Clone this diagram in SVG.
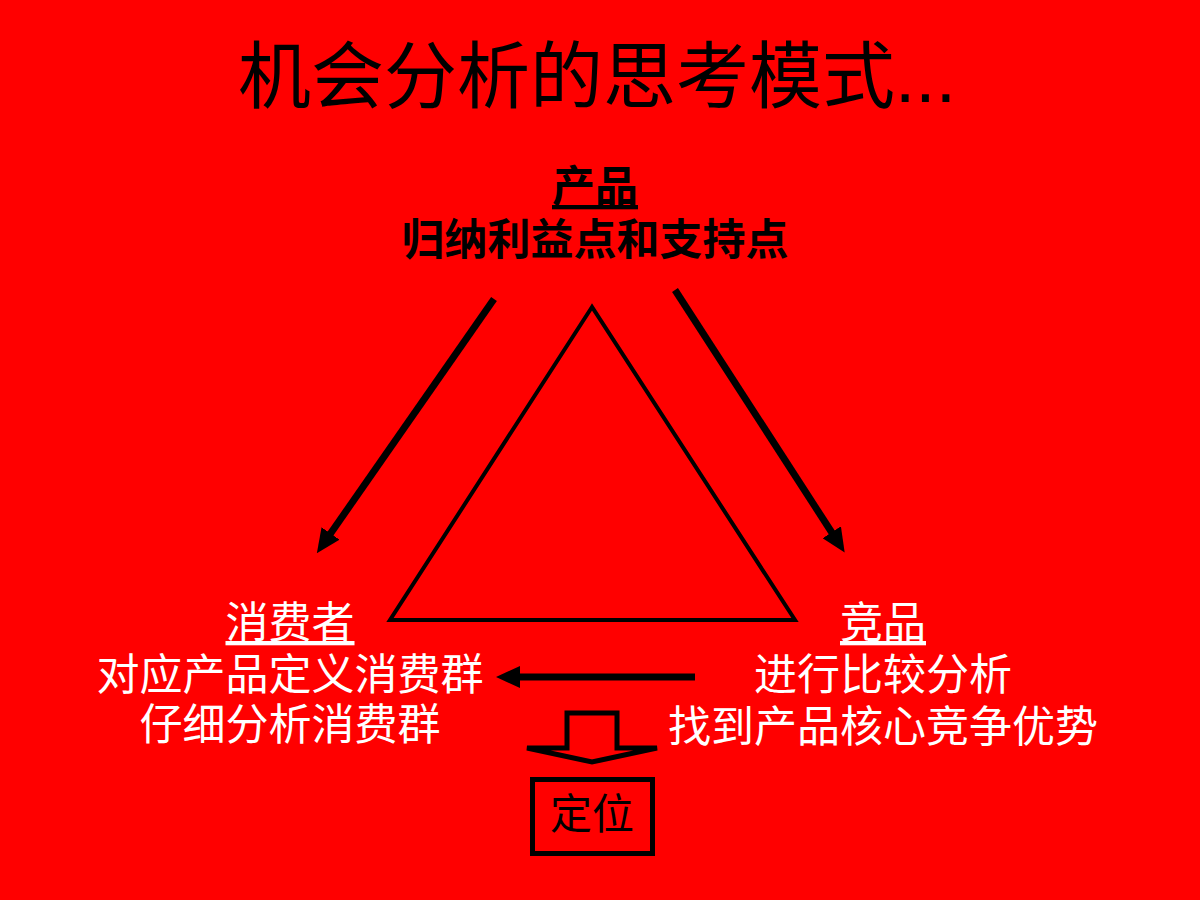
<svg xmlns="http://www.w3.org/2000/svg" width="1200" height="900" viewBox="0 0 1200 900">
<defs>
<style>
.t{font-family:"Liberation Sans","Noto Sans CJK SC",sans-serif;text-anchor:middle}
.title{font-size:73px;fill:#000}
.blk{font-size:43px;font-weight:bold;fill:#000}
.wht{font-size:43px;fill:#fff}
.u{text-decoration:underline}
.arr{stroke:#000;stroke-width:7;fill:none}
</style>
<marker id="ah" markerUnits="userSpaceOnUse" markerWidth="24" markerHeight="22" refX="8" refY="11" orient="auto">
<path d="M0,0 L24,11 L0,22 Z" fill="#000"/>
</marker>
</defs>
<rect x="0" y="0" width="1200" height="900" fill="#ff0000"/>
<text class="t title" x="597" y="102">机会分析的思考模式...</text>
<g id="triangle">
<polygon points="592,307 390,620 795,620" fill="none" stroke="#000" stroke-width="4"/>
</g>
<g id="product">
<text class="t blk u" x="595" y="202">产品</text>
<text class="t blk" x="595" y="255">归纳利益点和支持点</text>
</g>
<g id="consumer">
<text class="t wht u" x="290" y="638">消费者</text>
<text class="t wht" x="290" y="690">对应产品定义消费群</text>
<text class="t wht" x="290" y="740">仔细分析消费群</text>
</g>
<g id="competitor">
<text class="t wht u" x="883" y="638">竞品</text>
<text class="t wht" x="883" y="690">进行比较分析</text>
<text class="t wht" x="883" y="742">找到产品核心竞争优势</text>
</g>
<g id="positioning">
<rect x="532.5" y="779.5" width="120" height="74" fill="none" stroke="#000" stroke-width="5"/>
<text class="t" x="592" y="829" style="font-size:42px;fill:#000">定位</text>
</g>
<g id="connectors">
<line class="arr" x1="494" y1="299" x2="326" y2="540" marker-end="url(#ah)"/>
<line class="arr" x1="675" y1="290" x2="836" y2="539" marker-end="url(#ah)"/>
<line class="arr" x1="695" y1="677" x2="512" y2="677" marker-end="url(#ah)"/>
<polygon points="567,713 617,713 617,748 657,748 592,762 527,748 567,748" fill="none" stroke="#000" stroke-width="5" stroke-linejoin="miter"/>
</g>
</svg>
